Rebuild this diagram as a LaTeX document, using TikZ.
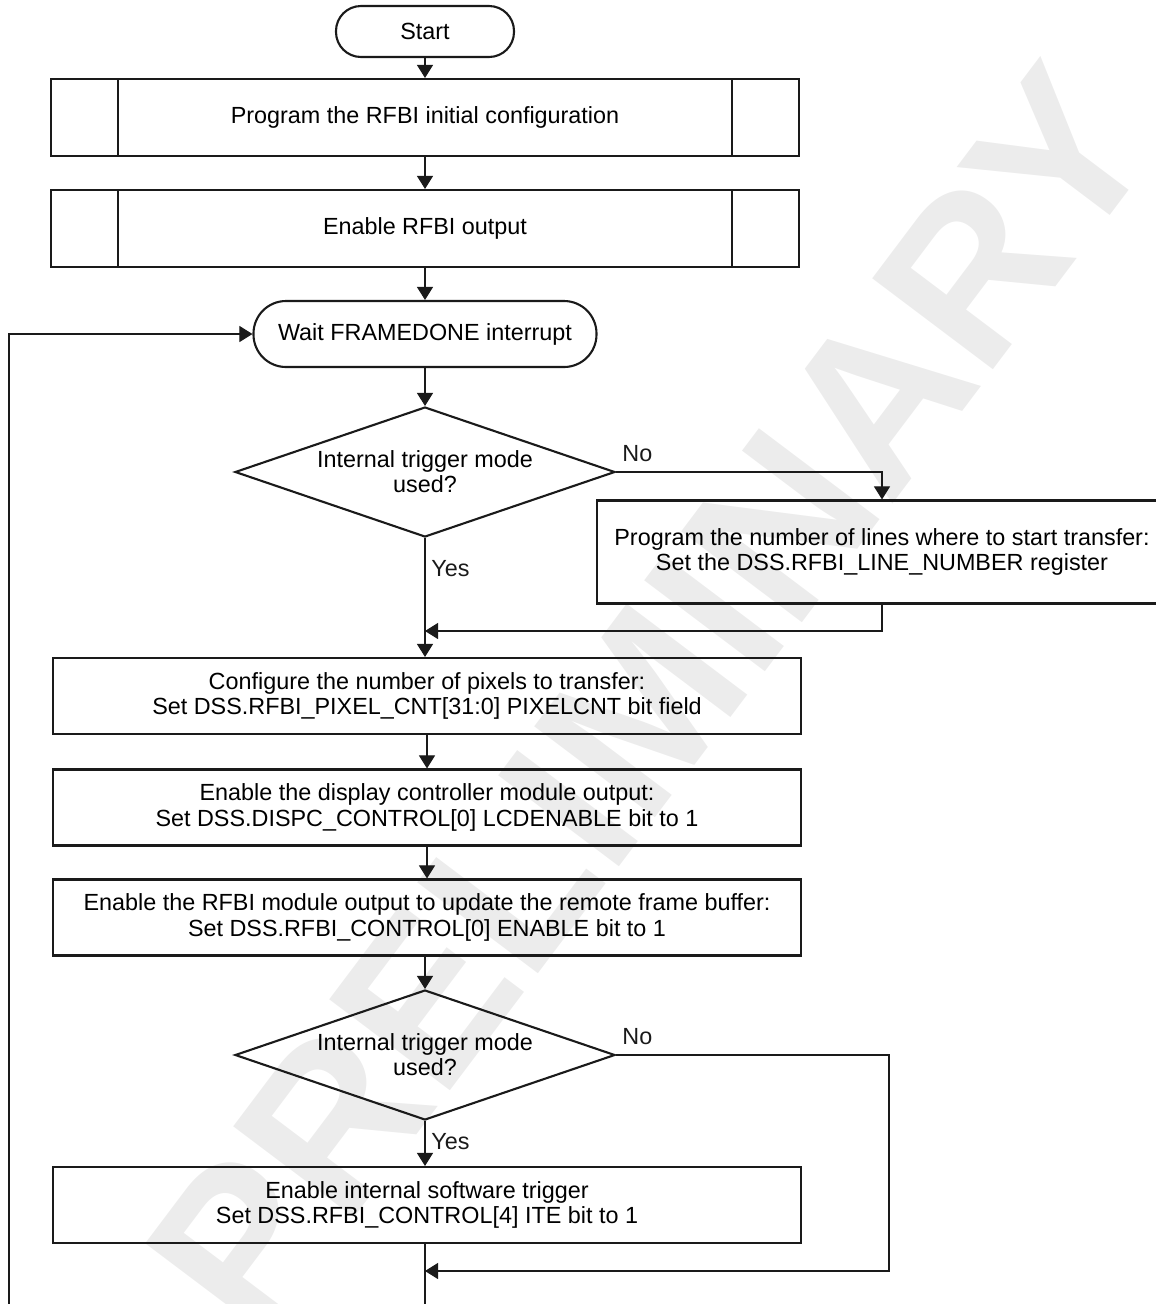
\documentclass[tikz,border=0pt]{standalone}
\usepackage{fontspec}
\setmainfont{Liberation Sans}
\usepackage{tikz}
\usetikzlibrary{arrows.meta,positioning,calc,shapes.geometric}
\definecolor{ink}{HTML}{1A1A1A}
\definecolor{wmgray}{HTML}{ECECEC}
\tikzset{
  flowfont/.style={font=\fontsize{13.3}{14.3}\selectfont},
  procbox/.style={rectangle,draw=ink,line width=1.2pt,minimum height=1.52cm,align=center,flowfont},
  subproc/.style={procbox,minimum width=14.96cm,minimum height=1.54cm,
    path picture={\draw[ink,line width=1.2pt]
      ([xshift=1.34cm]path picture bounding box.north west) -- ([xshift=1.34cm]path picture bounding box.south west)
      ([xshift=-1.34cm]path picture bounding box.north east) -- ([xshift=-1.34cm]path picture bounding box.south east);}},
  terminal/.style={rectangle,draw=ink,line width=1.2pt,align=center,flowfont},
  decision/.style={diamond,draw=ink,line width=1.2pt,aspect=2.9,inner sep=0pt,
    minimum width=7.6cm,minimum height=2.6cm,align=center,flowfont},
  flow/.style={draw=ink,line width=0.6pt},
  lbl/.style={text=ink,flowfont},
  watermark/.style={text=wmgray,font=\fontsize{125}{125}\selectfont\bfseries}
}
\newcommand{\flowbox}[4]{
  \node[procbox,minimum width=#3] (#1) at #2 {#4};
}

\begin{document}
\begin{tikzpicture}[>={Triangle[length=0.26cm,width=0.32cm]}]
  \useasboundingbox (0,0) rectangle (23.12,-26.08);
  \clip (0,0) rectangle (23.12,-26.08);
  % watermark behind everything
  \node[watermark,rotate=53] (wm) at (13.0,-14.0) {PRELIMINARY};

  \node[terminal,rounded corners=0.5cm,minimum width=3.56cm,minimum height=1.02cm] (start) at (8.5,-0.63) {Start};
  \node[subproc] (init) at (8.5,-2.35) {Program the RFBI initial configuration};
  \node[subproc] (enout) at (8.5,-4.57) {Enable RFBI output};
  \node[terminal,rounded corners=0.65cm,minimum width=6.86cm,minimum height=1.32cm] (wait) at (8.5,-6.68) {Wait FRAMEDONE interrupt};
  \node[decision] (trig1) at (8.5,-9.44) {Internal trigger mode\\used?};
  \node[procbox,minimum width=11.4cm,minimum height=2.06cm] (lines) at (17.64,-11.04)
    {Program the number of lines where to start transfer:\\Set the DSS.RFBI\_LINE\_NUMBER register};
  \flowbox{pixcnt}{(8.54,-13.92)}{14.96cm}{Configure the number of pixels to transfer:\\Set DSS.RFBI\_PIXEL\_CNT[31:0] PIXELCNT bit field}
  \flowbox{lcden}{(8.54,-16.15)}{14.96cm}{Enable the display controller module output:\\Set DSS.DISPC\_CONTROL[0] LCDENABLE bit to 1}
  \flowbox{rfbien}{(8.54,-18.35)}{14.96cm}{Enable the RFBI module output to update the remote frame buffer:\\Set DSS.RFBI\_CONTROL[0] ENABLE bit to 1}
  \node[decision] (trig2) at (8.5,-21.1) {Internal trigger mode\\used?};
  \flowbox{swtrig}{(8.54,-24.1)}{14.96cm}{Enable internal software trigger\\Set DSS.RFBI\_CONTROL[4] ITE bit to 1}

  \coordinate (join1) at (8.5,-12.62);
  \coordinate (join2) at (8.5,-25.42);
  \coordinate (nocorner) at (17.78,-25.42);
  \coordinate (mainfoot) at (8.5,-26.3);
  \coordinate (loopfoot) at (0.18,-26.3);

  \draw[flow,->] (start) -- (init);
  \draw[flow,->] (init) -- (enout);
  \draw[flow,->] (enout) -- (wait);
  \draw[flow,->] (wait) -- (trig1);
  \draw[flow,->] (trig1.east) node[lbl,above right,yshift=2pt] (no1) {No} -| (lines.north);
  \draw[flow,->] (lines.south) |- (join1);
  \draw[flow,->] (trig1) -- node[lbl,right,pos=0.26] (yes1) {Yes} (join1 |- pixcnt.north);
  \draw[flow,->] (pixcnt) -- (lcden);
  \draw[flow,->] (lcden) -- (rfbien);
  \draw[flow,->] (rfbien.south -| trig2.north) -- (trig2);
  \draw[flow,->] (trig2) -- node[lbl,right,pos=0.45] (yes2) {Yes} (join2 |- swtrig.north);
  \draw[flow,->] (trig2.east) node[lbl,above right,yshift=2pt] (no2) {No} -| (nocorner) -- (join2);
  \draw[flow] (join2 |- swtrig.south) -- (mainfoot);
  \draw[flow,->] (loopfoot) |- (wait.west);
\end{tikzpicture}
\end{document}
